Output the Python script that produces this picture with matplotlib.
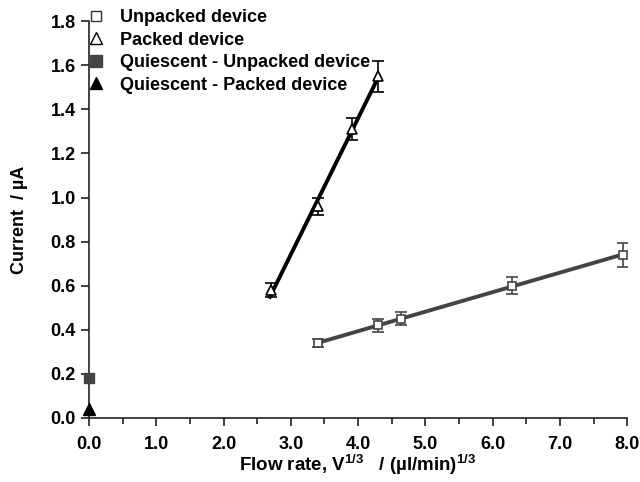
import numpy as np
import matplotlib
matplotlib.use('Agg')
import matplotlib.pyplot as plt
from matplotlib.ticker import MultipleLocator
from matplotlib.lines import Line2D

plt.rcParams['font.family'] = ['Liberation Sans', 'DejaVu Sans']
plt.rcParams['font.weight'] = 'bold'
plt.rcParams['axes.labelweight'] = 'bold'
plt.rcParams['mathtext.fontset'] = 'custom'
plt.rcParams['mathtext.rm'] = 'Liberation Sans'
plt.rcParams['mathtext.default'] = 'rm'

# unpacked device (open squares)
unpacked_x = [3.41, 4.30, 4.64, 6.29, 7.94]
unpacked_y = [0.34, 0.42, 0.45, 0.60, 0.74]
unpacked_err = [0.02, 0.03, 0.03, 0.04, 0.055]

# packed device (open triangles)
packed_x = [2.71, 3.41, 3.91, 4.29]
packed_y = [0.58, 0.96, 1.31, 1.55]
packed_err = [0.03, 0.04, 0.05, 0.07]

# quiescent points
quiet_unpacked = (0.0, 0.18)
quiet_packed = (0.0, 0.04)

labels = ['Unpacked device', 'Packed device',
          'Quiescent - Unpacked device', 'Quiescent - Packed device']

grey = '#444444'

fig = plt.figure(figsize=[6.4, 4.82], dpi=100)
ax = fig.add_axes([0.139, 0.133, 0.841, 0.823])

# linear fits
p1 = np.polyfit(unpacked_x, unpacked_y, 1)
xs1 = np.array([min(unpacked_x), max(unpacked_x)])
ax.plot(xs1, np.polyval(p1, xs1), color=grey, lw=2.8, zorder=2)
p2 = np.polyfit(packed_x, packed_y, 1)
xs2 = np.array([min(packed_x) - 0.02, max(packed_x) + 0.02])
ax.plot(xs2, np.polyval(p2, xs2), color='black', lw=2.8, zorder=2)

ax.errorbar(unpacked_x, unpacked_y, yerr=unpacked_err, fmt='s', ms=6,
            mfc='white', mec=grey, mew=1.2, ecolor=grey, elinewidth=1.2,
            capsize=4.5, capthick=1.2, zorder=3)
ax.errorbar(packed_x, packed_y, yerr=packed_err, fmt='^', ms=7,
            mfc='white', mec='black', mew=1.2, ecolor='black', elinewidth=1.2,
            capsize=4.5, capthick=1.2, zorder=3)
ax.plot(*quiet_unpacked, 's', ms=7, color=grey, clip_on=False, zorder=4)
ax.plot(*quiet_packed, '^', ms=8, color='black', clip_on=False, zorder=4)

ax.set_xlim(0, 8)
ax.set_ylim(0, 1.8)
ax.xaxis.set_major_locator(MultipleLocator(1))
ax.xaxis.set_minor_locator(MultipleLocator(0.5))
ax.yaxis.set_major_locator(MultipleLocator(0.2))
ax.xaxis.set_major_formatter(plt.FormatStrFormatter('%.1f'))
ax.yaxis.set_major_formatter(plt.FormatStrFormatter('%.1f'))
ax.spines['top'].set_visible(False)
ax.spines['right'].set_visible(False)
for s in ['left', 'bottom']:
    ax.spines[s].set_linewidth(1.2)
    ax.spines[s].set_color('#222222')
ax.tick_params(which='major', length=6, width=1.2, labelsize=13, color='#222222')
ax.tick_params(which='minor', length=4, width=1.2, color='#222222')
ax.tick_params(axis='x', pad=7)

ax.set_xlabel('Flow rate, V$^{1/3}$   / (\u00b5l/min)$^{1/3}$',
              fontsize=13.5, fontweight='bold', labelpad=0)
ax.set_ylabel('Current  / \u00b5A', fontsize=13, fontweight='bold', labelpad=16)

handles = [
    Line2D([], [], ls='none', marker='s', ms=7, mfc='white', mec='#333333', mew=1.0),
    Line2D([], [], ls='none', marker='^', ms=8, mfc='white', mec='black', mew=1.0),
    Line2D([], [], ls='none', marker='s', ms=8, color=grey),
    Line2D([], [], ls='none', marker='^', ms=8, color='black'),
]
ax.legend(handles, labels, loc='upper left', frameon=False, fontsize=13,
          handletextpad=0.8, borderaxespad=0.0, borderpad=0.0,
          labelspacing=0.3, handlelength=1.0, bbox_to_anchor=(-0.003, 1.03))

fig.savefig('out.png', dpi=100)
